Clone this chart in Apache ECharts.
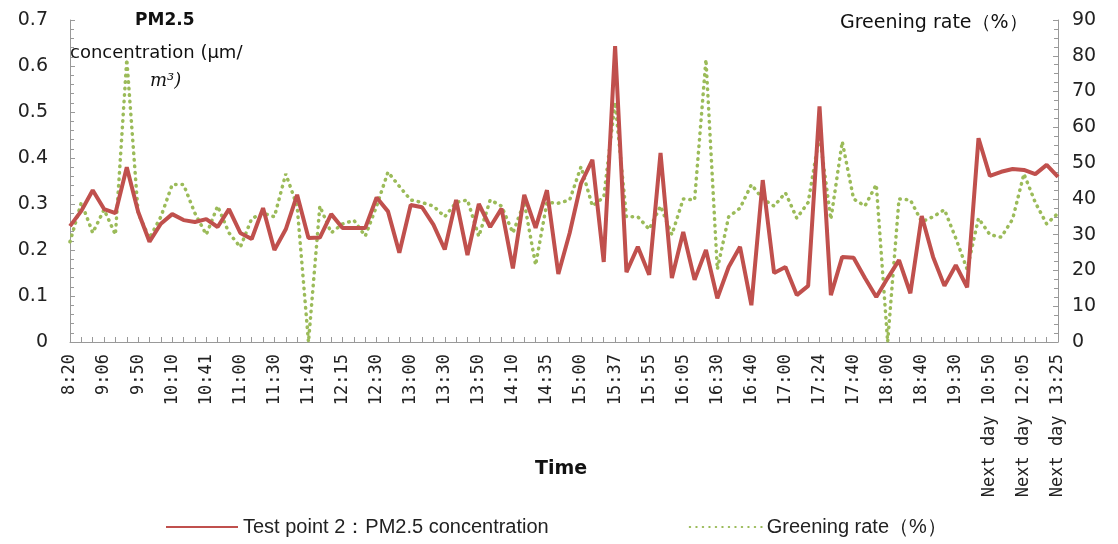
<!DOCTYPE html>
<html>
<head>
<meta charset="utf-8">
<script src="https://cdn.jsdelivr.net/npm/echarts@6/dist/echarts.min.js"></script>
<style>html,body{margin:0;padding:0;background:#fff}#main{width:1118px;height:544px}</style>
</head>
<body>
<div id="main"></div>
<script>
// tick labels shown on every 3rd sample
var timeLabels = ['8:20', '9:06', '9:50', '10:10', '10:41', '11:00', '11:30', '11:49', '12:15', '12:30',
	'13:00', '13:30', '13:50', '14:10', '14:35', '15:00', '15:37', '15:55', '16:05', '16:30',
	'16:40', '17:00', '17:24', '17:40', '18:00', '18:40', '19:30', 'Next day 10:50', 'Next day 12:05', 'Next day 13:25'];

var pm25 = [0.252, 0.285, 0.33, 0.289, 0.28, 0.38, 0.283, 0.218, 0.257, 0.278,
	0.265, 0.261, 0.267, 0.25, 0.289, 0.237, 0.224, 0.291, 0.2, 0.245,
	0.32, 0.226, 0.227, 0.278, 0.248, 0.248, 0.248, 0.314, 0.284, 0.194,
	0.298, 0.293, 0.255, 0.201, 0.309, 0.189, 0.3, 0.25, 0.29, 0.16,
	0.32, 0.248, 0.33, 0.148, 0.237, 0.345, 0.396, 0.174, 0.643, 0.152,
	0.207, 0.146, 0.411, 0.139, 0.239, 0.135, 0.2, 0.095, 0.163, 0.207,
	0.08, 0.352, 0.15, 0.163, 0.102, 0.122, 0.512, 0.102, 0.185, 0.183,
	0.139, 0.098, 0.139, 0.178, 0.106, 0.274, 0.185, 0.122, 0.167, 0.119,
	0.443, 0.361, 0.37, 0.376, 0.374, 0.365, 0.385, 0.359];

var greening = [28, 39, 30.5, 37, 30, 79, 36, 29, 35, 44,
	44, 36, 30, 38, 30.5, 26.5, 34.5, 36, 35, 47,
	38, 0, 38, 30.5, 33, 34, 29.6, 38, 47.5, 43.5,
	39.7, 39, 38, 35, 39, 39.7, 29.5, 39.7, 38, 30.5,
	39, 21.5, 39, 38.8, 39.7, 49, 38, 40.5, 67, 35,
	35, 31.5, 38, 30, 40, 39.7, 79, 20.3, 35, 37.4,
	44, 40, 38, 41.7, 34.6, 39, 57.8, 34.3, 56, 40,
	38, 44, 0, 40, 39.7, 33.6, 35, 37, 29, 20.3,
	34.6, 30, 29.3, 34.3, 47, 39, 33, 36];

var categories = pm25.map(function (v, i) {
	return i % 3 === 0 ? timeLabels[i / 3] : 'p' + i;
});

var chart = echarts.init(document.getElementById('main'));
var font = 'DejaVu Sans';
chart.setOption({
	animation: false,
	textStyle: { fontFamily: font },
	grid: { left: 70, right: 60, top: 20, bottom: 202 },
	legend: {
		bottom: 2,
		left: 160,
		itemGap: 140,
		itemWidth: 72,
		itemHeight: 12,
		itemStyle: { opacity: 0 },
		textStyle: { fontSize: 20, color: '#222', fontFamily: 'Liberation Sans' },
		data: ['Test point 2：PM2.5 concentration', 'Greening rate（%）']
	},
	xAxis: {
		type: 'category',
		boundaryGap: false,
		data: categories,
		axisLine: { lineStyle: { color: '#999' } },
		axisTick: { inside: true, interval: 0, length: 5, lineStyle: { color: '#999' } },
		axisLabel: {
			interval: 2, rotate: 90, fontSize: 17, color: '#222', margin: 12,
			fontFamily: 'DejaVu Sans Mono',
			formatter: function (v) { return v.charAt(0) === 'p' ? '' : v; }
		}
	},
	yAxis: [{
		type: 'value', min: 0, max: 0.7, interval: 0.1,
		axisLine: { show: true, lineStyle: { color: '#999' } },
		axisTick: { show: true, inside: true, length: 5, lineStyle: { color: '#999' } },
		minorTick: { show: true, splitNumber: 5, length: 4, lineStyle: { color: '#999' } },
		splitLine: { show: false },
		axisLabel: { fontSize: 19, color: '#222', margin: 22 }
	}, {
		type: 'value', min: 0, max: 90, interval: 10,
		axisLine: { show: true, lineStyle: { color: '#999' } },
		axisTick: { show: true, inside: true, length: 5, lineStyle: { color: '#999' } },
		minorTick: { show: true, splitNumber: 4, length: 4, lineStyle: { color: '#999' } },
		splitLine: { show: false },
		axisLabel: { fontSize: 19, color: '#222', margin: 14 }
	}],
	graphic: [
		{ type: 'text', left: 135, top: 12, style: { text: 'PM2.5', font: 'bold 17px ' + font, fill: '#111' } },
		{ type: 'text', left: 70, top: 44, style: { text: 'concentration (μm/', font: '18px ' + font, fill: '#111' } },
		{ type: 'text', left: 150, top: 72, style: { text: '𝑚³)', font: 'italic 18px DejaVu Serif', fill: '#111' } },
		{ type: 'text', left: 840, top: 14, style: { text: 'Greening rate（%）', font: '19px ' + font, fill: '#111' } },
		{ type: 'text', left: 535, top: 460, style: { text: 'Time', font: 'bold 19px ' + font, fill: '#111' } }
	],
	series: [{
		name: 'Test point 2：PM2.5 concentration',
		type: 'line',
		data: pm25,
		yAxisIndex: 0,
		symbol: 'none',
		lineStyle: { color: '#C0504D', width: 4 },
		itemStyle: { color: '#C0504D' }
	}, {
		name: 'Greening rate（%）',
		type: 'line',
		data: greening,
		yAxisIndex: 1,
		symbol: 'none',
		z: 1,
		lineStyle: { color: '#9BBB59', width: 3.5, type: [0.5, 6], cap: 'round' },
		itemStyle: { color: '#9BBB59' }
	}]
});
</script>
</body>
</html>
